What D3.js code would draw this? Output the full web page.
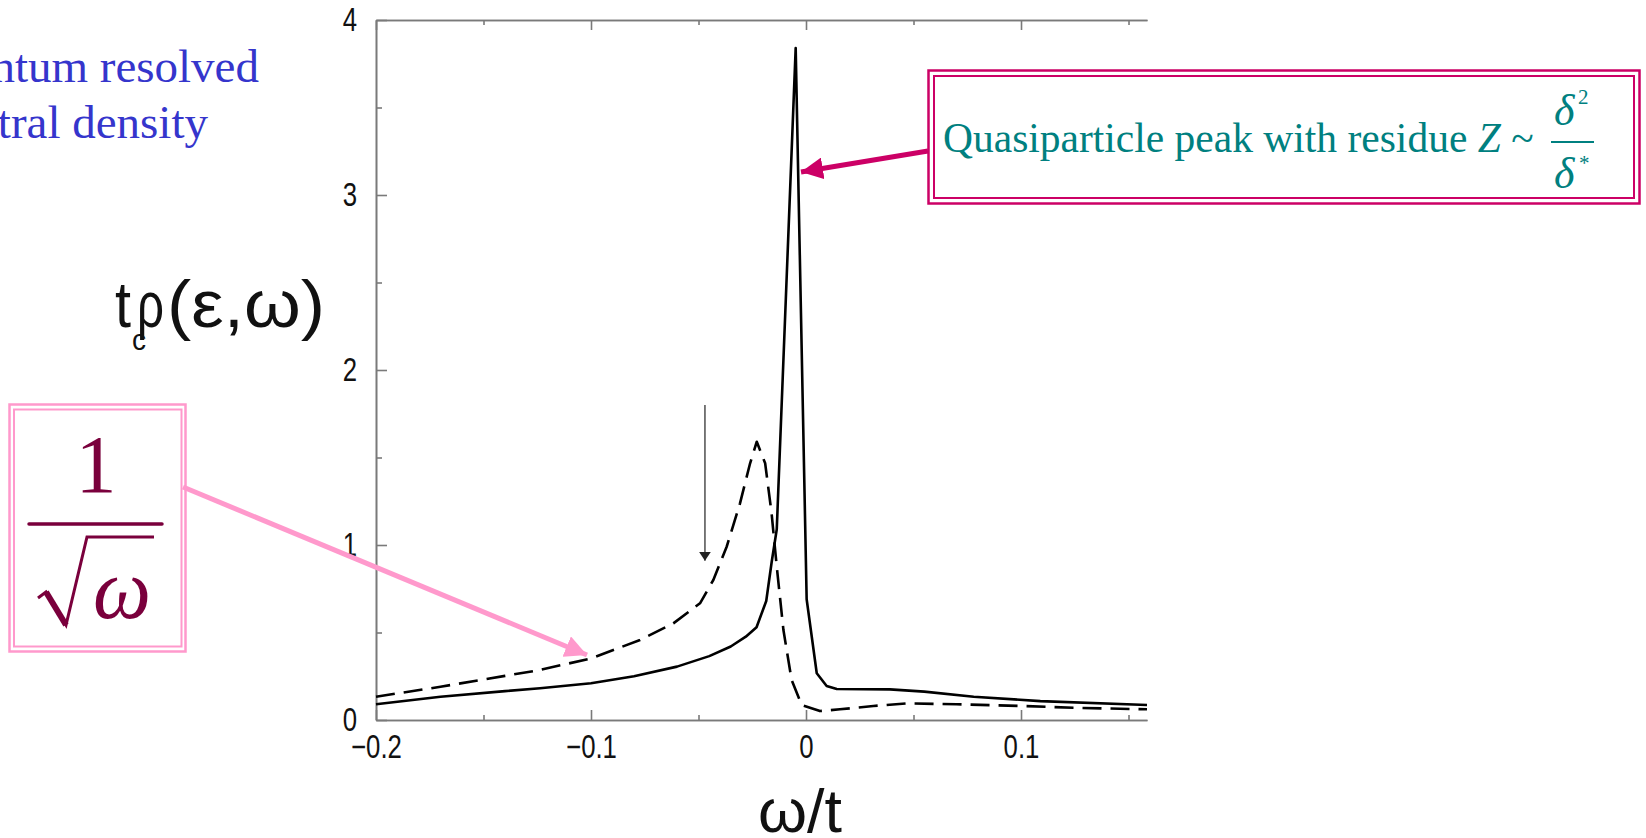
<!DOCTYPE html>
<meta charset="utf-8">
<style>
body { margin: 0; background: #fff; }
.axis path, .axis line { stroke: #7a7a7a; stroke-width: 1.6px; }
.curve { fill: none; stroke: #000; stroke-width: 2.6px; stroke-linejoin: round; }
.serif { font-family: "Liberation Serif", "Times New Roman", serif; }
</style>
<svg width="1646" height="838"></svg>
<script src="https://cdnjs.cloudflare.com/ajax/libs/d3/7.8.5/d3.min.js"></script>
<script>

// solid curve: rho_c(eps, omega) at the quasiparticle momentum
var solidOmega = [-0.2, -0.17, -0.14, -0.1237, -0.1, -0.08, -0.06, -0.045, -0.035, -0.028, -0.023,
                  -0.0185, -0.016, -0.0136, -0.0048, 0.0003, 0.005, 0.0096, 0.0143, 0.039, 0.055,
                  0.078, 0.109, 0.1586];
var solidRho   = [0.09, 0.133, 0.165, 0.181, 0.21, 0.25, 0.305, 0.365, 0.42, 0.476, 0.53,
                  0.68, 0.9, 1.09, 3.84, 0.69, 0.267, 0.194, 0.177, 0.175, 0.162,
                  0.133, 0.108, 0.086];

// dashed curve
var dashedOmega = [-0.2, -0.17, -0.14, -0.1237, -0.1, -0.0772, -0.0617, -0.0493, -0.0431, -0.0369,
                   -0.0307, -0.026, -0.0229, -0.019, -0.016, -0.0136, -0.0105, -0.0067, -0.002,
                   0.0065, 0.0158, 0.0313, 0.0468, 0.07, 0.101, 0.1244, 0.1586];
var dashedRho   = [0.133, 0.19, 0.252, 0.286, 0.352, 0.457, 0.552, 0.667, 0.8, 0.99,
                   1.238, 1.467, 1.59, 1.467, 1.18, 0.876, 0.514, 0.229, 0.086,
                   0.051, 0.061, 0.08, 0.095, 0.09, 0.08, 0.07, 0.061];

var xTicks = [-0.2, -0.1, 0, 0.1],
    xMinor = [-0.15, -0.05, 0.05, 0.15],
    yTicks = [0, 1, 2, 3, 4],
    yMinor = [0.5, 1.5, 2.5, 3.5];

var markerOmega = -0.047;   // small vertical arrow above the dashed curve

var svg = d3.select("svg");

var x = d3.scaleLinear().domain([-0.2, 0.1586]).range([376, 1147]),
    y = d3.scaleLinear().domain([0, 4]).range([720, 20]);

var fmt = function(d) { return d === 0 ? "0" : d3.format(".1f")(d).replace("-", "\u2212"); };

// narrow, tall tick labels like the original Helvetica
function styleLabels(g) {
  g.selectAll("text")
      .attr("font-family", "'Liberation Sans', Arial, sans-serif")
      .attr("font-size", 33)
      .attr("fill", "#111")
      .each(function() {
        var w = this.getComputedTextLength();
        d3.select(this).attr("textLength", w * 0.78).attr("lengthAdjust", "spacingAndGlyphs");
      });
}

// bottom axis, ticks inward
svg.append("g").attr("class", "axis").attr("transform", "translate(0,720)")
    .call(d3.axisBottom(x).tickValues(xTicks).tickSize(-10).tickSizeOuter(0).tickPadding(15).tickFormat(fmt))
    .call(styleLabels);
svg.append("g").attr("class", "axis").attr("transform", "translate(0,720)")
    .call(d3.axisBottom(x).tickValues(xMinor).tickSize(-5).tickSizeOuter(0).tickFormat(""));
// top axis
svg.append("g").attr("class", "axis").attr("transform", "translate(0,20)")
    .call(d3.axisTop(x).tickValues(xTicks).tickSize(-10).tickSizeOuter(0).tickFormat(""));
svg.append("g").attr("class", "axis").attr("transform", "translate(0,20)")
    .call(d3.axisTop(x).tickValues(xMinor).tickSize(-5).tickSizeOuter(0).tickFormat(""));
// left axis
svg.append("g").attr("class", "axis").attr("transform", "translate(376,0)")
    .call(d3.axisLeft(y).tickValues(yTicks).tickSize(-11).tickSizeOuter(0).tickPadding(19).tickFormat(d3.format("d")))
    .call(styleLabels);
svg.append("g").attr("class", "axis").attr("transform", "translate(376,0)")
    .call(d3.axisLeft(y).tickValues(yMinor).tickSize(-6).tickSizeOuter(0).tickFormat(""));

var line = d3.line()
    .x(function(d) { return x(d[0]); })
    .y(function(d) { return y(d[1]); });

svg.append("path").attr("class", "curve")
    .attr("d", line(d3.zip(solidOmega, solidRho)));
svg.append("path").attr("class", "curve")
    .style("stroke-dasharray", "19,9")
    .attr("d", line(d3.zip(dashedOmega, dashedRho)));

// arrow markers
var defs = svg.append("defs");
function head(id, color, w, h) {
  defs.append("marker").attr("id", id)
      .attr("viewBox", "0 0 " + w + " " + h).attr("refX", w).attr("refY", h / 2)
      .attr("markerUnits", "userSpaceOnUse").attr("markerWidth", w).attr("markerHeight", h)
      .attr("orient", "auto")
    .append("path").attr("d", "M0,0L" + w + "," + (h / 2) + "L0," + h + "Z").attr("fill", color);
}
head("blk", "#222", 9, 12);
head("mag", "#cc0066", 22, 22);
head("pnk", "#ff99cc", 22, 22);

svg.append("line")
    .attr("x1", x(markerOmega)).attr("x2", x(markerOmega))
    .attr("y1", y(1.8)).attr("y2", y(0.91))
    .attr("stroke", "#333").attr("stroke-width", 1.3).attr("marker-end", "url(#blk)");

// axis titles
var yt = svg.append("g").style("font-family", "'Liberation Sans', Arial, sans-serif").style("fill", "#111");
yt.append("text").attr("x", 115).attr("y", 327).style("font-size", "64px")
    .attr("textLength", 16).attr("lengthAdjust", "spacingAndGlyphs").text("t");
yt.append("text").attr("x", 137).attr("y", 327).style("font-size", "64px")
    .attr("textLength", 27).attr("lengthAdjust", "spacingAndGlyphs").text("\u03c1");
yt.append("text").attr("x", 132).attr("y", 350).style("font-size", "30px")
    .attr("textLength", 14).attr("lengthAdjust", "spacingAndGlyphs").text("c");
yt.append("text").attr("x", 167).attr("y", 327).style("font-size", "66px")
    .attr("textLength", 158).attr("lengthAdjust", "spacingAndGlyphs").text("(\u03b5,\u03c9)");

svg.append("text").attr("x", 758).attr("y", 832)
    .style("font", "62px 'Liberation Sans', Arial, sans-serif").style("fill", "#111")
    .attr("textLength", 84).attr("lengthAdjust", "spacingAndGlyphs").text("\u03c9/t");

// heading (cut off at the left edge)
var hd = svg.append("g").attr("class", "serif").style("font-size", "47px").style("fill", "#3535cc")
    .attr("text-anchor", "end");
hd.append("text").attr("x", 259).attr("y", 82).text("Momentum resolved");
hd.append("text").attr("x", 208).attr("y", 138).text("spectral density");

// quasiparticle annotation
svg.append("rect").attr("x", 928.5).attr("y", 70.5).attr("width", 711).attr("height", 133)
    .attr("fill", "#fff").attr("stroke", "#cc0066").attr("stroke-width", 2.5);
svg.append("rect").attr("x", 934).attr("y", 76).attr("width", 700).attr("height", 122)
    .attr("fill", "none").attr("stroke", "#cc0066").attr("stroke-width", 2);
var qa = svg.append("g").attr("class", "serif").style("fill", "#008080");
var qt = qa.append("text").attr("x", 943).attr("y", 152).style("font-size", "41.5px");
qt.append("tspan").text("Quasiparticle peak with residue ");
qt.append("tspan").style("font-style", "italic").text("Z");
qt.append("tspan").text(" ~");
qa.append("text").attr("x", 1554).attr("y", 125).style("font-size", "44px").style("font-style", "italic").text("\u03b4");
qa.append("text").attr("x", 1578).attr("y", 104).style("font-size", "21px").text("2");
qa.append("line").attr("x1", 1551).attr("x2", 1594).attr("y1", 142).attr("y2", 142)
    .attr("stroke", "#008080").attr("stroke-width", 2);
qa.append("text").attr("x", 1554).attr("y", 188).style("font-size", "44px").style("font-style", "italic").text("\u03b4");
qa.append("text").attr("x", 1579).attr("y", 170).style("font-size", "21px").text("*");

svg.append("line").attr("x1", 928).attr("y1", 151).attr("x2", 801).attr("y2", 172)
    .attr("stroke", "#cc0066").attr("stroke-width", 5).attr("marker-end", "url(#mag)");

// 1/sqrt(omega) annotation
svg.append("rect").attr("x", 9.5).attr("y", 404.5).attr("width", 176).attr("height", 247)
    .attr("fill", "none").attr("stroke", "#ff99cc").attr("stroke-width", 2.5);
svg.append("rect").attr("x", 14).attr("y", 409.5).attr("width", 167.5).attr("height", 237)
    .attr("fill", "none").attr("stroke", "#ff99cc").attr("stroke-width", 2);
var fr = svg.append("g").attr("class", "serif").style("fill", "#7a003c");
fr.append("text").attr("x", 96).attr("y", 492).attr("text-anchor", "middle").style("font-size", "82px").text("1");
fr.append("line").attr("x1", 29).attr("x2", 162).attr("y1", 524).attr("y2", 524)
    .attr("stroke", "#7a003c").attr("stroke-width", 3.5).attr("stroke-linecap", "round");
fr.append("path").attr("d", "M38,598L46,592L66,625L87,537L154,537")
    .attr("fill", "none").attr("stroke", "#7a003c").attr("stroke-width", 3).attr("stroke-linejoin", "miter");
fr.append("path").attr("d", "M46,592L66,625").attr("stroke", "#7a003c").attr("stroke-width", 6);
fr.append("text").attr("x", 93).attr("y", 618).style("font-size", "86px").style("font-style", "italic")
    .attr("textLength", 58).attr("lengthAdjust", "spacingAndGlyphs").text("\u03c9");

svg.append("line").attr("x1", 183).attr("y1", 487).attr("x2", 587).attr("y2", 655)
    .attr("stroke", "#ff99cc").attr("stroke-width", 5).attr("marker-end", "url(#pnk)");

</script>
